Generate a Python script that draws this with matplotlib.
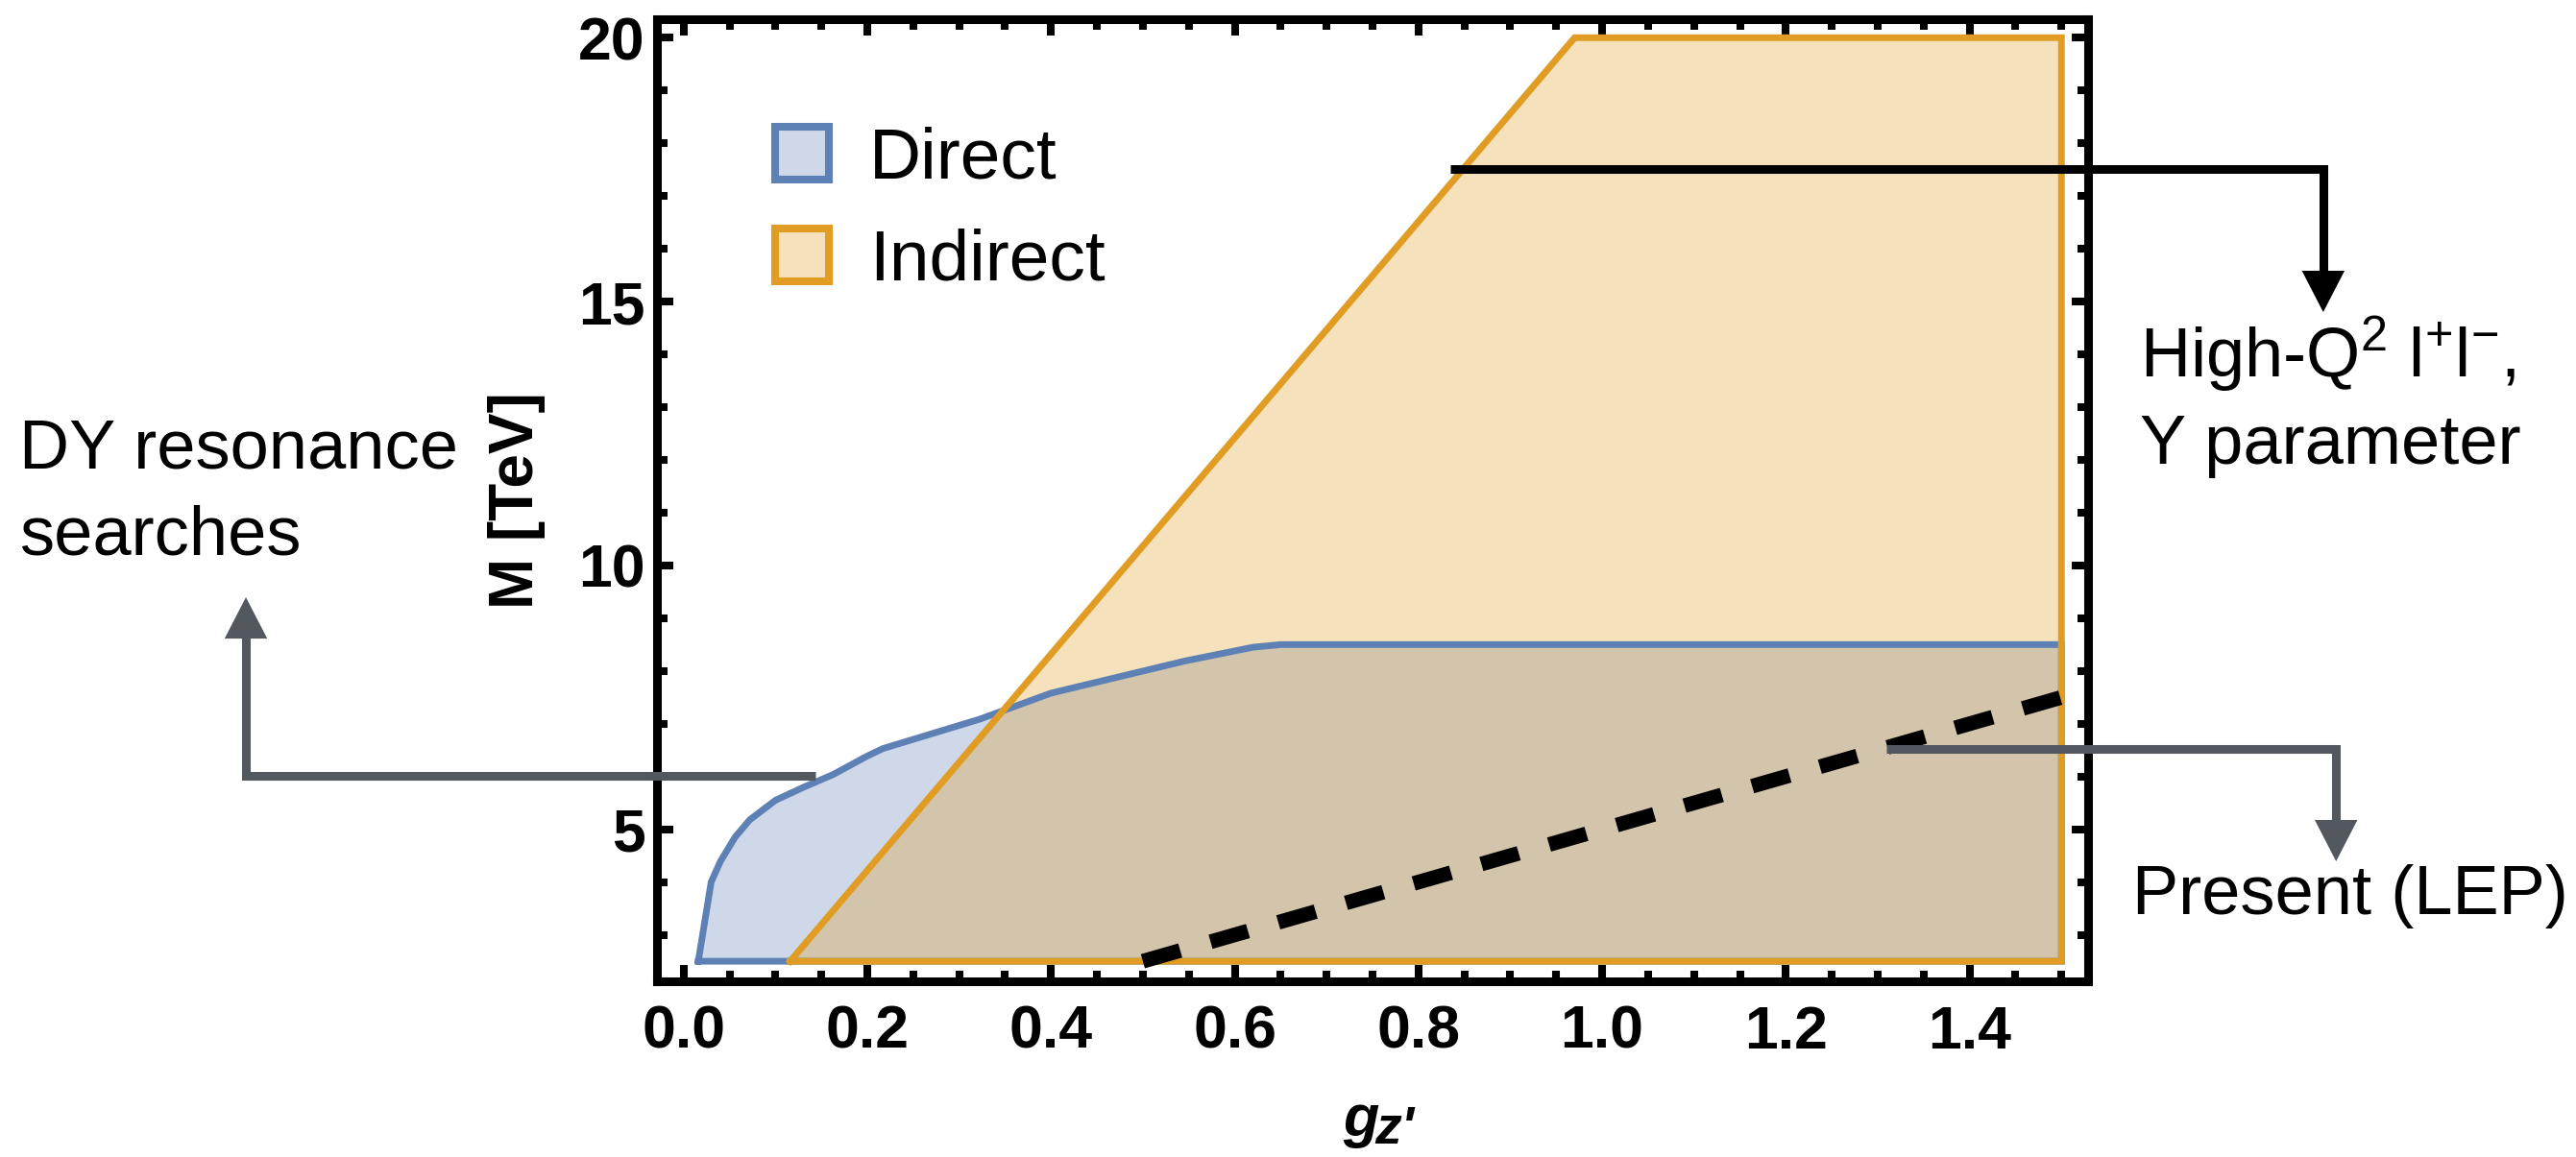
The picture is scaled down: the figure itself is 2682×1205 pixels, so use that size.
import numpy as np
import matplotlib
matplotlib.use("Agg")
import matplotlib.pyplot as plt
from matplotlib.patches import Patch, FancyArrowPatch, ArrowStyle
from matplotlib.ticker import FixedLocator, MultipleLocator

plt.rcParams['font.family'] = ['Liberation Sans', 'DejaVu Sans']
plt.rcParams['mathtext.fontset'] = 'custom'
plt.rcParams['mathtext.rm'] = 'Liberation Sans'
plt.rcParams['mathtext.it'] = 'Liberation Sans:italic'
plt.rcParams['mathtext.bf'] = 'Liberation Sans:bold'

# ---------------- data ----------------
direct_g = [0.016, 0.030, 0.040, 0.056, 0.072, 0.100, 0.131, 0.163, 0.199,
            0.217, 0.323, 0.400, 0.546, 0.620, 0.650, 1.500, 1.500]
direct_M = [2.5, 4.0, 4.39, 4.85, 5.18, 5.55, 5.80, 6.04, 6.38,
            6.53, 7.09, 7.58, 8.19, 8.45, 8.50, 8.50, 2.5]
indirect_g = [0.116, 0.970, 1.500, 1.500]
indirect_M = [2.5, 20.0, 20.0, 2.5]
lep_g = [0.5, 1.5]
lep_M = [2.5, 7.5]

x_ticks = [0.0, 0.2, 0.4, 0.6, 0.8, 1.0, 1.2, 1.4]
x_ticklabels = ['0.0', '0.2', '0.4', '0.6', '0.8', '1.0', '1.2', '1.4']
y_ticks = [5, 10, 15, 20]
y_ticklabels = ['5', '10', '15', '20']
legend_labels = ['Direct', 'Indirect']

# ---------------- style ----------------
BLUE = '#5e81b5'
ORANGE = '#e19c24'
GRAY = '#53575e'

W, H = 2682, 1205
fig = plt.figure(figsize=(W / 100, H / 100), dpi=100, facecolor='white')
ax = fig.add_axes([684 / W, 1 - 1022 / H, (2174 - 684) / W, (1022 - 20) / H])

# fills (semi-transparent), then outlines
ax.fill(direct_g, direct_M, facecolor=BLUE, alpha=0.3, edgecolor='none', zorder=2)
ax.fill(indirect_g, indirect_M, facecolor=ORANGE, alpha=0.3, edgecolor='none', zorder=3)
ax.plot(direct_g + direct_g[:1], direct_M + direct_M[:1], color=BLUE, lw=5,
        solid_joinstyle='miter', zorder=4)
ax.plot(indirect_g + indirect_g[:1], indirect_M + indirect_M[:1], color=ORANGE, lw=5,
        solid_joinstyle='miter', zorder=5)
lep, = ax.plot(lep_g, lep_M, color='black', lw=11, solid_capstyle='butt',
               dash_capstyle='butt', zorder=6)
lep.set_dashes((2.65, 2.15))

XLIM = (-0.029, 1.529)
YLIM = (2.12, 20.35)
ax.set_xlim(*XLIM)
ax.set_ylim(*YLIM)

# axes frame & ticks
for s in ax.spines.values():
    s.set_linewidth(6.5)
    s.set_color('black')
ax.xaxis.set_major_locator(FixedLocator(x_ticks))
ax.set_xticklabels(x_ticklabels)
ax.yaxis.set_major_locator(FixedLocator(y_ticks))
ax.set_yticklabels(y_ticklabels)
ax.xaxis.set_minor_locator(MultipleLocator(0.05))
ax.yaxis.set_minor_locator(MultipleLocator(1))
ax.tick_params(which='both', direction='in', top=True, right=True,
               labeltop=False, labelright=False, color='black')
ax.tick_params(which='major', length=11.9, width=5.8)
ax.tick_params(which='minor', length=7.6, width=5.8)
ax.tick_params(axis='x', which='major', pad=17, labelsize=45)
ax.tick_params(axis='y', which='major', pad=9, labelsize=45)
for lab in ax.get_xticklabels() + ax.get_yticklabels():
    lab.set_fontweight('bold')

ax.set_ylabel('M [TeV]', fontsize=46, fontweight='bold')
ax.yaxis.set_label_coords(-0.078, 0.5)

# x label g_z'
fig.text(1398 / W, 1 - 1183 / H, 'g', fontsize=44, fontweight='bold',
         fontstyle='italic', va='baseline', ha='left')
fig.text(1431 / W, 1 - 1191 / H, "z'", fontsize=40, fontweight='bold',
         fontstyle='italic', va='baseline', ha='left')

# legend
handles = [Patch(facecolor=(0.369, 0.506, 0.71, 0.3), edgecolor=BLUE, lw=5.8),
           Patch(facecolor=(0.882, 0.612, 0.141, 0.3), edgecolor=ORANGE, lw=5.8)]
ax.legend(handles, legend_labels, loc='upper left', bbox_to_anchor=(0.0826, 0.889),
          borderaxespad=0, borderpad=0, frameon=False, fontsize=54,
          handlelength=0.75, handleheight=0.75, handletextpad=0.56, labelspacing=0.5)


# annotation arrows (elbow shape), coordinates in data units, drawn outside axes
def elbow_arrow(x0, y0, xc, ytip, color):
    hl = 0.78 if ytip < y0 else -0.78
    ax.plot([x0, xc, xc], [y0, y0, ytip + hl * 0.8], color=color, lw=6.5,
            solid_joinstyle='miter', solid_capstyle='butt', clip_on=False, zorder=10)
    arr = FancyArrowPatch((xc, ytip + hl), (xc, ytip),
                          arrowstyle=ArrowStyle('-|>', head_length=31, head_width=16),
                          mutation_scale=1, lw=0, color=color, shrinkA=0, shrinkB=0,
                          clip_on=False, zorder=11)
    ax.add_patch(arr)


elbow_arrow(0.835, 17.51, 1.785, 14.80, 'black')
elbow_arrow(1.309, 6.52, 1.799, 4.394, GRAY)
elbow_arrow(0.1435, 6.013, -0.4765, 9.397, GRAY)

# annotation texts
TXT = 52
fig.text(2228 / W, 1 - 392 / H, r'High-Q$^{2}$ l$^{+}$l$^{-}$,', fontsize=TXT,
         va='baseline', ha='left')
fig.text(2228 / W, 1 - 483 / H, 'Y parameter', fontsize=TXT, va='baseline', ha='left')
fig.text(20 / W, 1 - 488 / H, 'DY resonance', fontsize=TXT, va='baseline', ha='left')
fig.text(20 / W, 1 - 577 / H, 'searches', fontsize=TXT, va='baseline', ha='left')
fig.text(2220 / W, 1 - 952 / H, 'Present (LEP)', fontsize=TXT, va='baseline', ha='left')

fig.savefig('out.png', dpi=100, facecolor='white')
